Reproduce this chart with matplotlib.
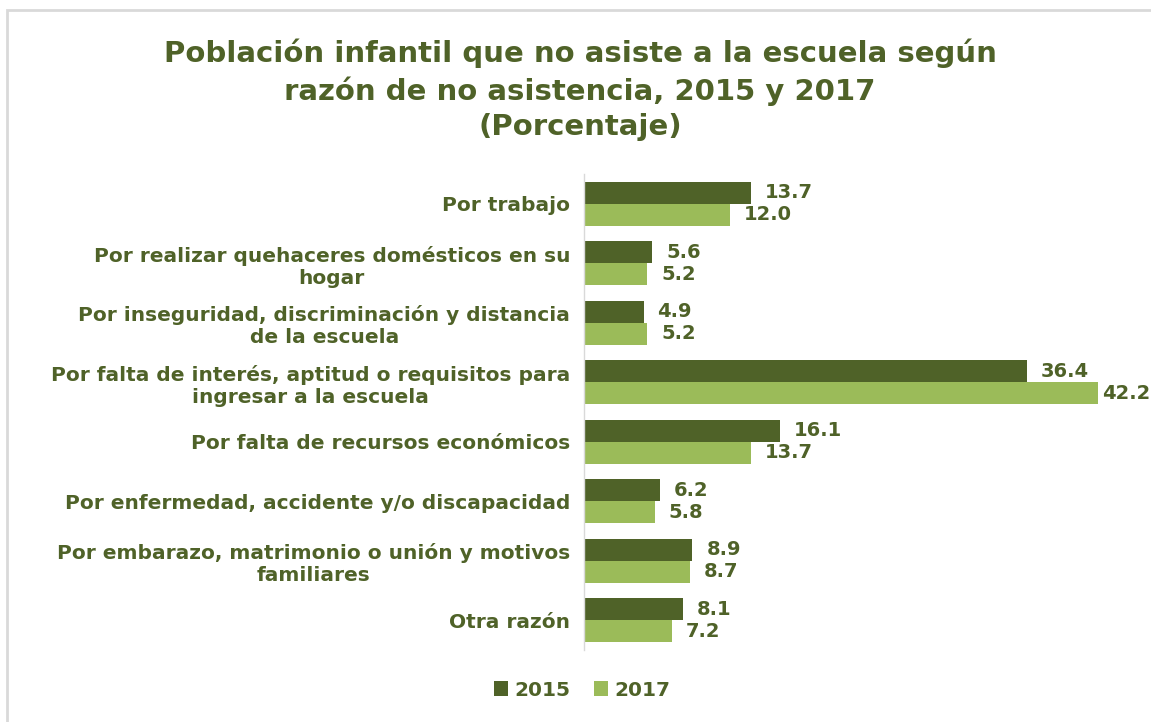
import matplotlib
matplotlib.use("Agg")
import matplotlib.pyplot as plt
from matplotlib.patches import Rectangle

categories = [
    "Por trabajo",
    "Por realizar quehaceres domésticos en su\nhogar",
    "Por inseguridad, discriminación y distancia\nde la escuela",
    "Por falta de interés, aptitud o requisitos para\ningresar a la escuela",
    "Por falta de recursos económicos",
    "Por enfermedad, accidente y/o discapacidad",
    "Por embarazo, matrimonio o unión y motivos\nfamiliares",
    "Otra razón",
]
values_2015 = [13.7, 5.6, 4.9, 36.4, 16.1, 6.2, 8.9, 8.1]
values_2017 = [12.0, 5.2, 5.2, 42.2, 13.7, 5.8, 8.7, 7.2]
series_names = ["2015", "2017"]

c2015 = "#4F6228"
c2017 = "#9BBB59"
txt = "#4F6228"
font = "DejaVu Sans"

fig = plt.figure(figsize=(11.51, 7.22), dpi=100)
W, H = 1151, 722

# outer border
fig.patches.append(Rectangle((7 / W, -0.1), 1.2, 1 - 10 / H + 0.1, transform=fig.transFigure,
                             fill=False, edgecolor="#D9D9D9", linewidth=2))

ax = fig.add_axes([584 / W, 1 - 650 / H, (1132 - 584) / W, (650 - 174) / H])
ypos = list(range(len(categories)))
h = 0.37
y1 = [y - h / 2 for y in ypos]
y2 = [y + h / 2 for y in ypos]
b1 = ax.barh(y1, values_2015, height=h, color=c2015, label=series_names[0])
b2 = ax.barh(y2, values_2017, height=h, color=c2017, label=series_names[1])

ax.set_xlim(0, 45)
ax.set_ylim(len(categories) - 0.5, -0.5)
ax.set_xticks([])
ax.set_yticks(ypos)
ax.set_yticklabels(categories, fontsize=14.5, fontweight="bold", color=txt,
                   family=font, multialignment="center", linespacing=1.2)
ax.tick_params(axis="y", length=0, pad=10)
for s in ["top", "right", "bottom"]:
    ax.spines[s].set_visible(False)
ax.spines["left"].set_color("#D9D9D9")
ax.spines["left"].set_linewidth(1)

vmax = max(values_2015 + values_2017)
for bars, vals in ((b1, values_2015), (b2, values_2017)):
    for bar, v in zip(bars, vals):
        off = 3 if v == vmax else 10
        ax.annotate(f"{v:.1f}", (bar.get_width(), bar.get_y() + bar.get_height() / 2),
                    xytext=(off, 0), textcoords="offset points", va="center", ha="left",
                    fontsize=14, fontweight="bold", color=txt, family=font,
                    annotation_clip=False)

fig.text(580 / W, 1 - 90 / H,
         "Población infantil que no asiste a la escuela según\nrazón de no asistencia, 2015 y 2017\n(Porcentaje)",
         ha="center", va="center", fontsize=21, fontweight="bold", color=txt,
         family=font, linespacing=1.33)

leg = fig.legend(handles=[b1, b2], loc="center", bbox_to_anchor=(582 / W, 1 - 690 / H),
                 ncol=2, frameon=False, handlelength=0.7, handleheight=0.7,
                 handletextpad=0.3, columnspacing=1.2,
                 prop={"family": font, "weight": "bold", "size": 14.5})
for t in leg.get_texts():
    t.set_color(txt)

fig.savefig("out.png", dpi=100)
